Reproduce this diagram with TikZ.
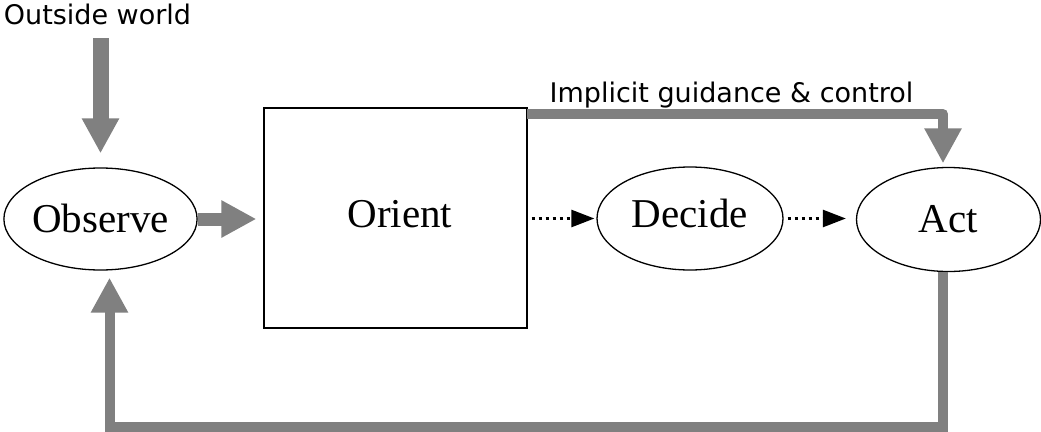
\documentclass[tikz,border=0pt]{standalone}
\usepackage{fontspec}
\setmainfont{Liberation Serif}
\newfontfamily\labelfont{DejaVu Sans}
\usetikzlibrary{shapes.geometric,arrows.meta}
\definecolor{arrowgray}{RGB}{128,128,128}
\tikzset{
  stage/.style={draw=black, line width=1.3pt, inner sep=0pt, text depth=0pt,
    font=\fontsize{41}{49}\selectfont},
  oval/.style={stage, ellipse},
  caption/.style={font=\labelfont\fontsize{27}{32}\selectfont, inner sep=0pt, anchor=base},
  fatarrow/.style={draw=arrowgray, line cap=butt, -{Triangle[length=35pt,width=35pt]}, arrowgray},
  thinarrow/.style={draw=black, line width=2.6pt, dash pattern=on 3pt off 4pt,
    -{Triangle[length=23pt,width=17pt]}, black},
}
\begin{document}
\begin{tikzpicture}[x=1pt,y=-1pt]
\useasboundingbox (0,0) rectangle (1041,431);
% nodes
\node[oval, minimum width=185pt, minimum height=102pt, text height=26pt] (obs) at (100.5,219) {Observe};
\node[stage, rectangle, minimum width=263pt, minimum height=220pt, text height=18pt] (ori) at (395.5,218) {\hspace*{9pt}Orient};
\node[oval, minimum width=186pt, minimum height=103pt, text height=17pt] (dec) at (690,218.5) {Decide};
\node[oval, minimum width=184pt, minimum height=104pt, text height=25pt] (act) at (948.5,219.5) {Act};
\node[caption] (ow) at (97.5,24) {Outside world};
\node[caption] (ig) at (731.5,102) {Implicit guidance \& control};
% helper coordinates
\coordinate (owstart) at (100.5,38);
\coordinate (gstart) at (527,114);
\coordinate (gturn) at (943,114);
\coordinate (fb1) at (943,427);
\coordinate (fb2) at (109.5,427);
% connectors
\draw[fatarrow, line width=16pt, shorten >=14pt] (owstart) -- (obs.north);
\draw[fatarrow, line width=13pt, shorten >=7pt] (obs.east) -- (ori.west |- obs.east);
\draw[thinarrow, shorten <=4pt, shorten >=2pt] (ori.east |- dec.west) -- (dec.west);
\draw[thinarrow, shorten <=4pt, shorten >=10pt] (dec.east) -- (act.west |- dec.east);
\draw[fatarrow, line width=10pt, line join=round, shorten >=3.5pt] (gstart) -- (gturn) -- (gturn |- act.north);
\draw[fatarrow, line width=10pt, line join=miter, shorten >=7pt] (act.south -| fb1) -- (fb1) -- (fb2) -- (fb2 |- obs.south);
\end{tikzpicture}
\end{document}
